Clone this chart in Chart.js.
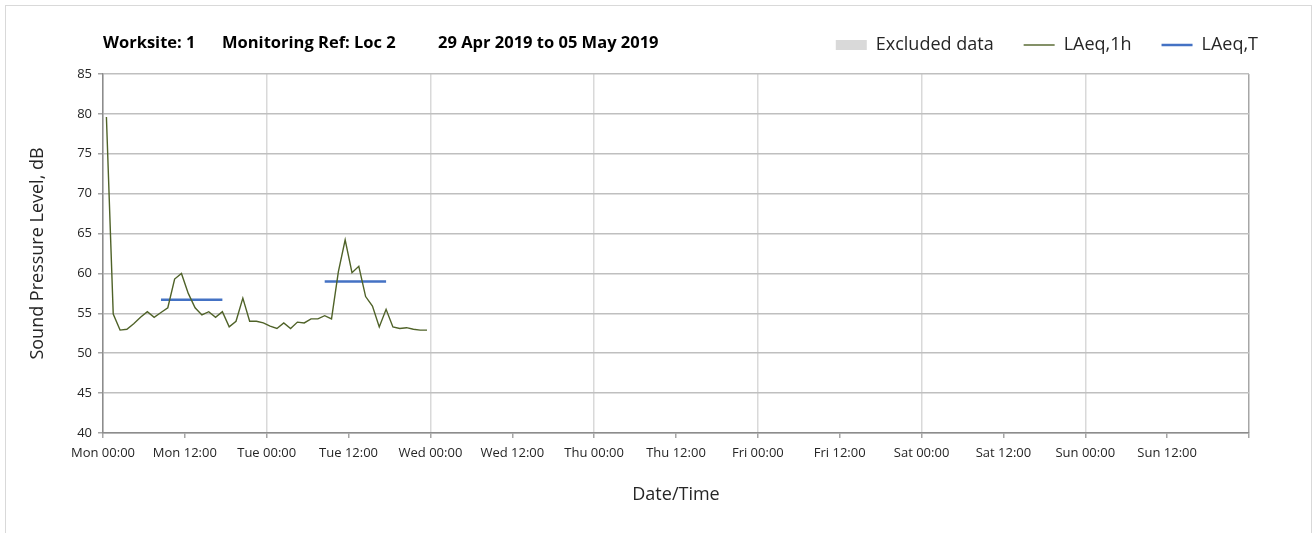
<!DOCTYPE html>
<html>
<head>
<meta charset="utf-8">
<script src="https://cdn.jsdelivr.net/npm/chart.js@4/dist/chart.umd.min.js"></script>
<style>
  html, body { margin: 0; padding: 0; background: #fff; overflow: hidden; }
  #wrap { position: relative; width: 1314px; height: 533px; }
  #frame { position: absolute; left: 5px; top: 5px; width: 1307px; height: 600px;
           border: 1.5px solid #d9d9d9; box-sizing: border-box; }
  #chart { position: absolute; left: 0; top: 0; }
</style>
</head>
<body>
<div id="wrap">
  <div id="frame"></div>
  <canvas id="chart" width="1314" height="533"></canvas>
</div>
<script>
// hours since Mon 00:00 (hourly values, plotted at mid-hour)
const hours = [0.5, 1.5, 2.5, 3.5, 4.5, 5.5, 6.5, 7.5, 8.5, 9.5, 10.5, 11.5,
  12.5, 13.5, 14.5, 15.5, 16.5, 17.5, 18.5, 19.5, 20.5, 21.5, 22.5, 23.5,
  24.5, 25.5, 26.5, 27.5, 28.5, 29.5, 30.5, 31.5, 32.5, 33.5, 34.5, 35.5,
  36.5, 37.5, 38.5, 39.5, 40.5, 41.5, 42.5, 43.5, 44.5, 45.5, 46.5, 47.5];
const laeq1h = [79.6, 54.9, 52.9, 53.0, 53.7, 54.5, 55.2, 54.5, 55.1, 55.7, 59.3, 60.0,
  57.5, 55.7, 54.8, 55.2, 54.5, 55.2, 53.3, 54.0, 56.9, 54.0, 54.0, 53.8,
  53.4, 53.1, 53.8, 53.1, 53.9, 53.8, 54.3, 54.3, 54.7, 54.3, 60.2, 64.2,
  60.1, 60.9, 57.1, 55.9, 53.3, 55.5, 53.3, 53.1, 53.2, 53.0, 52.9, 52.9];

// LAeq,T periods
const periodStart = [8.5, 32.5];
const periodEnd = [17.5, 41.5];
const laeqT = [56.7, 59.0];

const tickLabels = ['Mon 00:00', 'Mon 12:00', 'Tue 00:00', 'Tue 12:00', 'Wed 00:00', 'Wed 12:00',
  'Thu 00:00', 'Thu 12:00', 'Fri 00:00', 'Fri 12:00', 'Sat 00:00', 'Sat 12:00',
  'Sun 00:00', 'Sun 12:00', ''];

const titleParts = ['Worksite: 1', 'Monitoring Ref: Loc 2', '29 Apr 2019 to 05 May 2019'];

const FONT = "'Open Sans', 'Noto Sans', sans-serif";

// line points
const pts1h = hours.map((h, i) => ({x: h, y: laeq1h[i]}));
const ptsT = [];
periodStart.forEach((s, i) => {
  if (i > 0) ptsT.push({x: (periodEnd[i - 1] + s) / 2, y: null});
  ptsT.push({x: s, y: laeqT[i]});
  ptsT.push({x: periodEnd[i], y: laeqT[i]});
});

// title text top left
const titlePlugin = {
  id: 'topTitle',
  afterDraw(chart) {
    const ctx = chart.ctx;
    ctx.save();
    ctx.font = "bold 16.5px " + FONT;
    ctx.fillStyle = '#000';
    ctx.textBaseline = 'middle';
    const xs = [103, 222, 438];
    titleParts.forEach((t, i) => ctx.fillText(t, xs[i], 43));
    ctx.restore();
  }
};

// empty spacer scales (gap under legend, right side)
const spacer = (axis, pos, size) => ({
  type: 'linear',
  axis: axis,
  position: pos,
  min: 0,
  max: 1,
  display: true,
  ticks: { display: false },
  grid: { display: false, drawTicks: false },
  border: { display: false },
  afterFit(scale) {
    if (pos === 'top') scale.height = size; else scale.width = size;
  }
});

new Chart(document.getElementById('chart'), {
  type: 'line',
  data: {
    datasets: [
      {
        label: 'Excluded data',
        data: [],
        xAxisID: 'x',
        yAxisID: 'y',
        backgroundColor: '#d9d9d9',
        borderColor: '#d9d9d9',
        borderWidth: 0,
        pointStyle: 'rect'
      },
      {
        label: 'LAeq,1h',
        data: pts1h,
        xAxisID: 'x',
        yAxisID: 'y',
        borderColor: '#4f6228',
        backgroundColor: '#4f6228',
        borderWidth: 1.4,
        pointRadius: 0,
        pointStyle: 'line',
        tension: 0
      },
      {
        label: 'LAeq,T',
        data: ptsT,
        xAxisID: 'x',
        yAxisID: 'y',
        borderColor: '#4472c4',
        backgroundColor: '#4472c4',
        borderWidth: 2.5,
        pointRadius: 0,
        pointStyle: 'line',
        spanGaps: false
      }
    ]
  },
  options: {
    responsive: false,
    animation: false,
    devicePixelRatio: 1,
    layout: { padding: { top: 6, left: 20, right: 26, bottom: 0 } },
    plugins: {
      tooltip: { enabled: false },
      legend: {
        position: 'top',
        align: 'end',
        labels: {
          usePointStyle: true,
          pointStyleWidth: 31,
          boxHeight: 10,
          padding: 30,
          color: '#262626',
          font: { family: FONT, size: 18 }
        }
      }
    },
    scales: {
      x: {
        type: 'linear',
        min: 0,
        max: 168,
        afterFit(scale) { scale.height = 100; },
        afterBuildTicks(scale) {
          scale.ticks = tickLabels.map((_, i) => ({value: i * 12}));
        },
        ticks: {
          autoSkip: false,
          maxRotation: 0,
          padding: 7,
          color: '#262626',
          font: { family: FONT, size: 13 },
          callback: (v, i) => tickLabels[i]
        },
        grid: {
          color: c => c.tick && c.tick.value === 168 ? '#a6a6a6'
            : (c.tick && c.tick.value % 24 === 0 ? '#d9d9d9' : 'rgba(0,0,0,0)'),
          tickColor: '#a6a6a6',
          tickLength: 5,
          lineWidth: 1.5
        },
        border: { color: '#8c8c8c', width: 1.5 },
        title: {
          display: true,
          text: 'Date/Time',
          color: '#262626',
          font: { family: FONT, size: 18 },
          padding: { top: 0, bottom: 27 }
        }
      },
      gapTop: spacer('x', 'top', 10),
      gapRight: spacer('y', 'right', 39),
      y: {
        min: 40,
        max: 85,
        afterFit(scale) { scale.width = 83; },
        ticks: {
          stepSize: 5,
          padding: 6,
          color: '#262626',
          font: { family: FONT, size: 13 }
        },
        grid: {
          color: '#bfbfbf',
          tickColor: '#a6a6a6',
          tickLength: 5,
          lineWidth: 1.5
        },
        border: { color: '#8c8c8c', width: 1.5 },
        title: {
          display: true,
          text: 'Sound Pressure Level, dB',
          color: '#262626',
          font: { family: FONT, size: 18 },
          padding: { top: 7, bottom: 0 }
        }
      }
    }
  },
  plugins: [titlePlugin]
});
</script>
</body>
</html>
